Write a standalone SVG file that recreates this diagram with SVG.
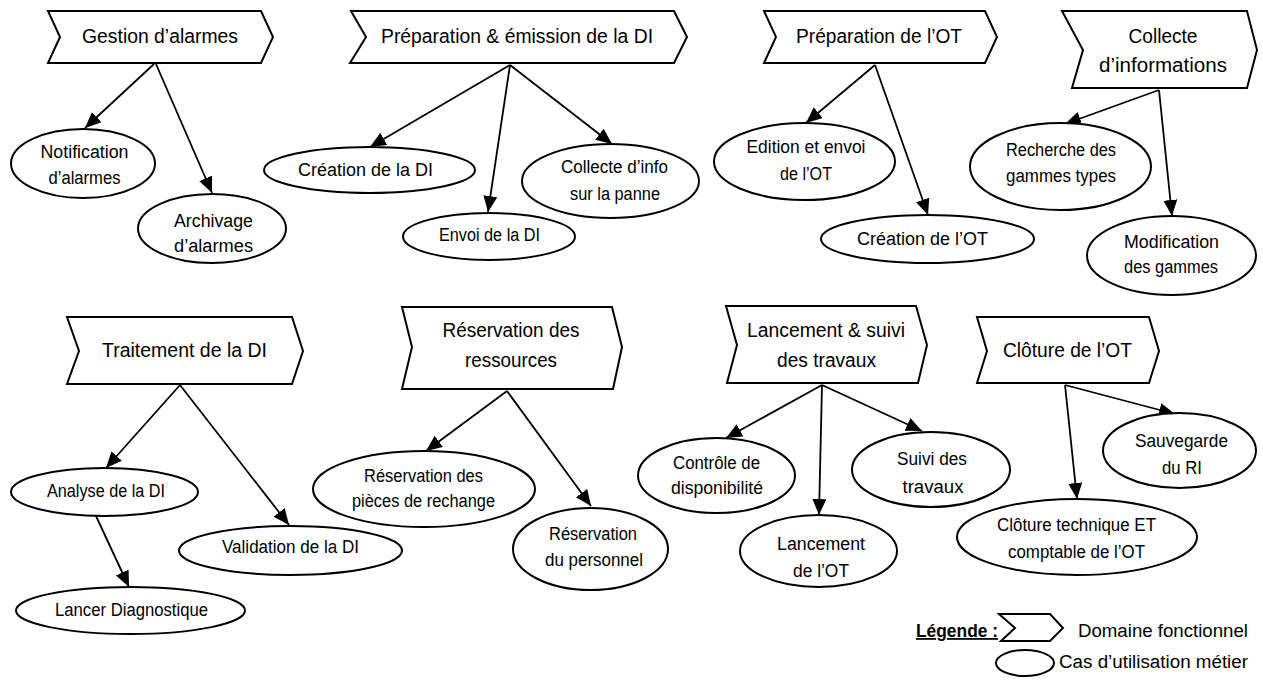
<svg xmlns="http://www.w3.org/2000/svg" width="1263" height="690" viewBox="0 0 1263 690">
<style>
.dom{fill:#fff;stroke:#000;stroke-width:2;stroke-linejoin:miter}
.uc{fill:#fff;stroke:#000;stroke-width:2}
.hd{font-family:"Liberation Sans",Arial,sans-serif;font-size:20px;fill:#000;text-anchor:middle}
.tx{font-family:"Liberation Sans",Arial,sans-serif;font-size:18px;fill:#000;text-anchor:middle}
.lg{font-family:"Liberation Sans",Arial,sans-serif;font-size:18px;fill:#000}
.cn line{stroke:#000;stroke-width:1.8;marker-end:url(#ah)}
</style>
<defs>
<marker id="ah" markerUnits="userSpaceOnUse" markerWidth="17" markerHeight="15" refX="16" refY="7" orient="auto">
<path d="M0,0 L16,7 L0,14 z" fill="#000"/>
</marker>
</defs>
<rect width="1263" height="690" fill="#fff"/>

<g id="connectors" class="cn">
<line x1="154" y1="64" x2="85" y2="128"/>
<line x1="156" y1="64" x2="212" y2="193"/>
<line x1="510" y1="65" x2="370" y2="147"/>
<line x1="510" y1="65" x2="488" y2="212"/>
<line x1="510" y1="65" x2="612" y2="144"/>
<line x1="875" y1="65" x2="806" y2="123"/>
<line x1="875" y1="65" x2="928" y2="215"/>
<line x1="1159" y1="90" x2="1065" y2="124"/>
<line x1="1159" y1="90" x2="1172" y2="216"/>
<line x1="180" y1="385" x2="106" y2="468"/>
<line x1="180" y1="385" x2="289" y2="525"/>
<line x1="96" y1="516" x2="129" y2="587"/>
<line x1="507" y1="391" x2="426" y2="451"/>
<line x1="507" y1="391" x2="591" y2="506"/>
<line x1="822" y1="385" x2="726" y2="438"/>
<line x1="822" y1="385" x2="819" y2="515"/>
<line x1="822" y1="385" x2="922" y2="431"/>
<line x1="1065" y1="385" x2="1077" y2="499"/>
<line x1="1065" y1="385" x2="1175" y2="414"/>
</g>

<g id="dom-gestion-alarmes">
<polygon class="dom" points="48,11 261,11 273,37 261,63 48,63 60,37"/>
<text class="hd" x="160" y="43" textLength="156" lengthAdjust="spacingAndGlyphs">Gestion d’alarmes</text>
</g>
<g id="dom-preparation-di">
<polygon class="dom" points="351,11 674,11 687,37 674,63 350,63 366,37"/>
<text class="hd" x="517" y="43" textLength="272" lengthAdjust="spacingAndGlyphs">Préparation &amp; émission de la DI</text>
</g>
<g id="dom-preparation-ot">
<polygon class="dom" points="764,11 985,11 997,37 985,63 764,63 776,37"/>
<text class="hd" x="879" y="43" textLength="166" lengthAdjust="spacingAndGlyphs">Préparation de l’OT</text>
</g>
<g id="dom-collecte-informations">
<polygon class="dom" points="1062,11 1247,11 1257,50 1247,88 1072,88 1083,50"/>
<text class="hd" x="1163" y="43" textLength="69" lengthAdjust="spacingAndGlyphs">Collecte</text>
<text class="hd" x="1163" y="72" textLength="128" lengthAdjust="spacingAndGlyphs">d’informations</text>
</g>
<g id="dom-traitement-di">
<polygon class="dom" points="67,317 292,317 303,351 292,384 67,384 79,351"/>
<text class="hd" x="184.5" y="357" textLength="165" lengthAdjust="spacingAndGlyphs">Traitement de la DI</text>
</g>
<g id="dom-reservation-ressources">
<polygon class="dom" points="402,307 612,307 622,347 613,389 402,389 412,347"/>
<text class="hd" x="511" y="337" textLength="137" lengthAdjust="spacingAndGlyphs">Réservation des</text>
<text class="hd" x="511" y="367" textLength="92" lengthAdjust="spacingAndGlyphs">ressources</text>
</g>
<g id="dom-lancement-suivi">
<polygon class="dom" points="726,306 916,306 927,345 918,383 727,383 737,345"/>
<text class="hd" x="826" y="337" textLength="158" lengthAdjust="spacingAndGlyphs">Lancement &amp; suivi</text>
<text class="hd" x="826.5" y="367" textLength="99" lengthAdjust="spacingAndGlyphs">des travaux</text>
</g>
<g id="dom-cloture-ot">
<polygon class="dom" points="977,317 1149,317 1159,351 1149,383 977,383 987,351"/>
<text class="hd" x="1067.5" y="357" textLength="129" lengthAdjust="spacingAndGlyphs">Clôture de l’OT</text>
</g>

<g id="uc-notification">
<ellipse class="uc" cx="83" cy="163.5" rx="72" ry="34.5"/>
<text class="tx" x="84.5" y="158" textLength="88" lengthAdjust="spacingAndGlyphs">Notification</text>
<text class="tx" x="84.5" y="184" textLength="72" lengthAdjust="spacingAndGlyphs">d’alarmes</text>
</g>
<g id="uc-archivage">
<ellipse class="uc" cx="212" cy="228.5" rx="74" ry="34.5"/>
<text class="tx" x="213.5" y="227" textLength="79" lengthAdjust="spacingAndGlyphs">Archivage</text>
<text class="tx" x="213.5" y="252" textLength="79" lengthAdjust="spacingAndGlyphs">d’alarmes</text>
</g>
<g id="uc-creation-di">
<ellipse class="uc" cx="369.5" cy="170" rx="105.5" ry="23"/>
<text class="tx" x="365.5" y="176" textLength="135" lengthAdjust="spacingAndGlyphs">Création de la DI</text>
</g>
<g id="uc-envoi-di">
<ellipse class="uc" cx="489" cy="236.5" rx="86" ry="23.5"/>
<text class="tx" x="489.5" y="241" textLength="101" lengthAdjust="spacingAndGlyphs">Envoi de la DI</text>
</g>
<g id="uc-collecte-info">
<ellipse class="uc" cx="610.5" cy="181" rx="88.5" ry="37"/>
<text class="tx" x="614.5" y="173" textLength="107" lengthAdjust="spacingAndGlyphs">Collecte d’info</text>
<text class="tx" x="615" y="200" textLength="90" lengthAdjust="spacingAndGlyphs">sur la panne</text>
</g>
<g id="uc-edition-ot">
<ellipse class="uc" cx="804.5" cy="161.5" rx="90.5" ry="38.5"/>
<text class="tx" x="806" y="153" textLength="119" lengthAdjust="spacingAndGlyphs">Edition et envoi</text>
<text class="tx" x="806" y="180" textLength="52" lengthAdjust="spacingAndGlyphs">de l’OT</text>
</g>
<g id="uc-creation-ot">
<ellipse class="uc" cx="927.5" cy="239" rx="106.5" ry="24"/>
<text class="tx" x="922.5" y="245" textLength="131" lengthAdjust="spacingAndGlyphs">Création de l’OT</text>
</g>
<g id="uc-recherche-gammes">
<ellipse class="uc" cx="1060.5" cy="166.5" rx="90.5" ry="43.5"/>
<text class="tx" x="1061" y="156" textLength="110" lengthAdjust="spacingAndGlyphs">Recherche des</text>
<text class="tx" x="1061" y="182" textLength="110" lengthAdjust="spacingAndGlyphs">gammes types</text>
</g>
<g id="uc-modification-gammes">
<ellipse class="uc" cx="1171.5" cy="255.5" rx="84.5" ry="39.5"/>
<text class="tx" x="1171.5" y="248" textLength="95" lengthAdjust="spacingAndGlyphs">Modification</text>
<text class="tx" x="1171" y="273" textLength="94" lengthAdjust="spacingAndGlyphs">des gammes</text>
</g>
<g id="uc-analyse-di">
<ellipse class="uc" cx="104.5" cy="492" rx="93.5" ry="24"/>
<text class="tx" x="106" y="497" textLength="118" lengthAdjust="spacingAndGlyphs">Analyse de la DI</text>
</g>
<g id="uc-lancer-diagnostique">
<ellipse class="uc" cx="130.5" cy="610.5" rx="114.5" ry="23.5"/>
<text class="tx" x="131.5" y="616" textLength="153" lengthAdjust="spacingAndGlyphs">Lancer Diagnostique</text>
</g>
<g id="uc-validation-di">
<ellipse class="uc" cx="290.5" cy="550.5" rx="111.5" ry="24.5"/>
<text class="tx" x="290.5" y="553" textLength="137" lengthAdjust="spacingAndGlyphs">Validation de la DI</text>
</g>
<g id="uc-reservation-pieces">
<ellipse class="uc" cx="424" cy="489" rx="111" ry="38"/>
<text class="tx" x="423.5" y="482" textLength="119" lengthAdjust="spacingAndGlyphs">Réservation des</text>
<text class="tx" x="423.5" y="507" textLength="143" lengthAdjust="spacingAndGlyphs">pièces de rechange</text>
</g>
<g id="uc-reservation-personnel">
<ellipse class="uc" cx="590.5" cy="549" rx="77.5" ry="41"/>
<text class="tx" x="593" y="540" textLength="88" lengthAdjust="spacingAndGlyphs">Réservation</text>
<text class="tx" x="594" y="566" textLength="98" lengthAdjust="spacingAndGlyphs">du personnel</text>
</g>
<g id="uc-controle-disponibilite">
<ellipse class="uc" cx="716.5" cy="475.5" rx="78.5" ry="37.5"/>
<text class="tx" x="716.5" y="469" textLength="87" lengthAdjust="spacingAndGlyphs">Contrôle de</text>
<text class="tx" x="717" y="494" textLength="92" lengthAdjust="spacingAndGlyphs">disponibilité</text>
</g>
<g id="uc-lancement-ot">
<ellipse class="uc" cx="818.5" cy="551" rx="78.5" ry="36"/>
<text class="tx" x="821" y="550" textLength="88" lengthAdjust="spacingAndGlyphs">Lancement</text>
<text class="tx" x="821" y="577" textLength="56" lengthAdjust="spacingAndGlyphs">de l’OT</text>
</g>
<g id="uc-suivi-travaux">
<ellipse class="uc" cx="931" cy="469.5" rx="79" ry="37.5"/>
<text class="tx" x="932" y="465" textLength="70" lengthAdjust="spacingAndGlyphs">Suivi des</text>
<text class="tx" x="933" y="493" textLength="61" lengthAdjust="spacingAndGlyphs">travaux</text>
</g>
<g id="uc-sauvegarde-ri">
<ellipse class="uc" cx="1179.5" cy="450.5" rx="76.5" ry="37.5"/>
<text class="tx" x="1181.5" y="447" textLength="93" lengthAdjust="spacingAndGlyphs">Sauvegarde</text>
<text class="tx" x="1182" y="474" textLength="40" lengthAdjust="spacingAndGlyphs">du RI</text>
</g>
<g id="uc-cloture-technique">
<ellipse class="uc" cx="1077" cy="537" rx="120" ry="38"/>
<text class="tx" x="1076.5" y="531" textLength="159" lengthAdjust="spacingAndGlyphs">Clôture technique ET</text>
<text class="tx" x="1076.5" y="558" textLength="137" lengthAdjust="spacingAndGlyphs">comptable de l’OT</text>
</g>

<g id="legend">
<text class="lg" x="916" y="637" font-weight="bold" text-decoration="underline" textLength="82" lengthAdjust="spacingAndGlyphs">Légende :</text>
<polygon class="dom" points="999,614 1050,614 1063,628 1050,641 1001,641 1015,628"/>
<text class="lg" x="1078" y="637" textLength="170" lengthAdjust="spacingAndGlyphs">Domaine fonctionnel</text>
<ellipse class="uc" cx="1025" cy="663" rx="29" ry="13"/>
<text class="lg" x="1059" y="668" textLength="189" lengthAdjust="spacingAndGlyphs">Cas d’utilisation métier</text>
</g>
</svg>
